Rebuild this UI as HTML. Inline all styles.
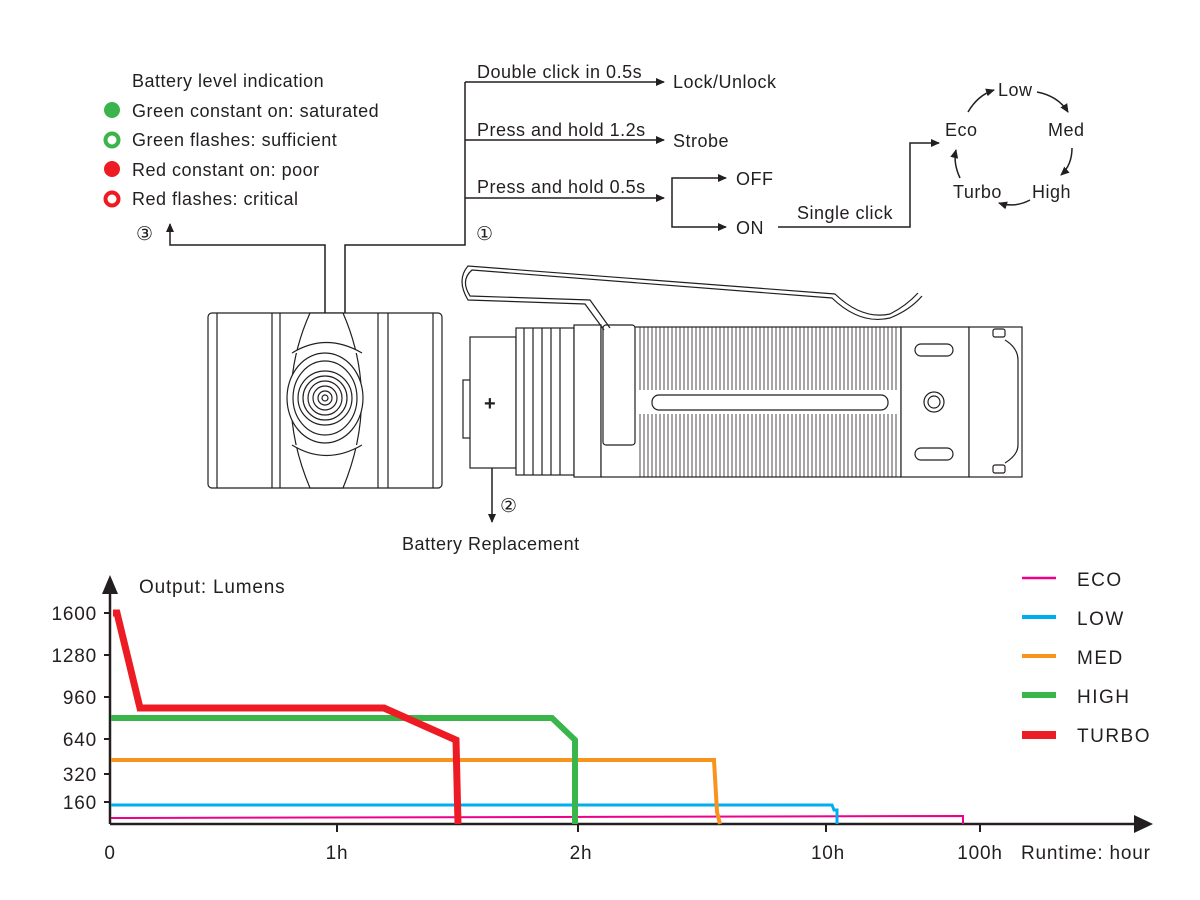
<!DOCTYPE html>
<html><head><meta charset="utf-8"><style>
html,body{margin:0;padding:0;background:#fff}
svg{display:block}
text{font-family:"Liberation Sans","DejaVu Sans",sans-serif;fill:#231f20}
.t{font-size:18px;letter-spacing:0.5px}
.c{font-size:19px;letter-spacing:0.8px}
</style></head><body>
<svg width="1200" height="900" viewBox="0 0 1200 900" xmlns="http://www.w3.org/2000/svg">
<defs>
<marker id="ar" markerWidth="9" markerHeight="9" refX="8" refY="4.5" orient="auto" markerUnits="userSpaceOnUse"><path d="M0,0.5 L9,4.5 L0,8.5z" fill="#231f20"/></marker>
</defs>

<!-- Battery indication -->
<text class="t" x="132" y="87">Battery level indication</text>
<circle cx="112" cy="110" r="8" fill="#3bb44a"/>
<text class="t" x="132" y="117">Green constant on: saturated</text>
<circle cx="112" cy="140" r="6.5" fill="none" stroke="#3bb44a" stroke-width="4"/>
<text class="t" x="132" y="146">Green flashes: sufficient</text>
<circle cx="112" cy="169" r="8" fill="#ed1c24"/>
<text class="t" x="132" y="176">Red constant on: poor</text>
<circle cx="112" cy="199" r="6.5" fill="none" stroke="#ed1c24" stroke-width="4"/>
<text class="t" x="132" y="205">Red flashes: critical</text>

<!-- connectors -->
<g stroke="#231f20" stroke-width="1.5" fill="none">
<path d="M325,398 V245 H170 V224" marker-end="url(#ar)"/>
<path d="M345,398 V245 H465 V82"/>
<path d="M465,82 H664" marker-end="url(#ar)"/>
<path d="M465,140 H664" marker-end="url(#ar)"/>
<path d="M465,198 H664" marker-end="url(#ar)"/>
<path d="M672,198 V178 H726" marker-end="url(#ar)"/>
<path d="M672,198 V227 H726" marker-end="url(#ar)"/>
<path d="M778,227 H910 V143 H939" marker-end="url(#ar)"/>
<path d="M492,452 V522" marker-end="url(#ar)"/>
</g>
<text x="136" y="240" font-size="19">③</text>
<text x="476" y="240" font-size="19">①</text>
<text x="500" y="512" font-size="19">②</text>
<text class="t" x="402" y="550">Battery Replacement</text>
<text class="t" x="477" y="78">Double click in 0.5s</text>
<text class="t" x="673" y="88">Lock/Unlock</text>
<text class="t" x="477" y="136">Press and hold 1.2s</text>
<text class="t" x="673" y="147">Strobe</text>
<text class="t" x="477" y="193">Press and hold 0.5s</text>
<text class="t" x="736" y="185">OFF</text>
<text class="t" x="736" y="234">ON</text>
<text class="t" x="797" y="219">Single click</text>

<!-- cycle -->
<text class="t" x="998" y="96">Low</text>
<text class="t" x="1048" y="136">Med</text>
<text class="t" x="1032" y="198">High</text>
<text class="t" x="953" y="198">Turbo</text>
<text class="t" x="945" y="136">Eco</text>
<g stroke="#231f20" stroke-width="1.5" fill="none">
<path d="M1037,92 Q1058,96 1068,112" marker-end="url(#ar)"/>
<path d="M1072,148 Q1072,165 1061,175" marker-end="url(#ar)"/>
<path d="M1030,200 Q1015,208 999,203" marker-end="url(#ar)"/>
<path d="M960,178 Q953,163 956,150" marker-end="url(#ar)"/>
<path d="M968,112 Q978,95 994,90" marker-end="url(#ar)"/>
</g>

<!-- flashlight head (front view) -->
<g stroke="#231f20" stroke-width="1.2" fill="#fff">
<rect x="208" y="313" width="234" height="175" rx="4"/>
<line x1="217" y1="313" x2="217" y2="488"/>
<line x1="272" y1="313" x2="272" y2="488"/>
<line x1="280" y1="313" x2="280" y2="488"/>
<line x1="378" y1="313" x2="378" y2="488"/>
<line x1="388" y1="313" x2="388" y2="488"/>
<line x1="433" y1="313" x2="433" y2="488"/>
<path d="M310,313 H343 Q380,398 343,488 H310 Q272,398 310,313z"/>
<path d="M292,353 Q326,332 362,353"/>
<path d="M292,445 Q326,466 362,445"/>
<ellipse cx="325" cy="398" rx="38" ry="45"/>
<ellipse cx="325" cy="398" rx="32" ry="37"/>
<circle cx="325" cy="398" r="27"/>
<circle cx="325" cy="398" r="22"/>
<circle cx="325" cy="398" r="17"/>
<circle cx="325" cy="398" r="12"/>
<circle cx="325" cy="398" r="7"/>
<circle cx="325" cy="398" r="3"/>
</g>

<!-- flashlight body -->
<g stroke="#231f20" stroke-width="1.2" fill="#fff">
<rect x="463" y="380" width="8" height="58"/>
<rect x="470" y="337" width="46" height="131"/>
<rect x="516" y="328" width="58" height="147"/>
<line x1="524" y1="328" x2="524" y2="475"/><line x1="533" y1="328" x2="533" y2="475"/><line x1="542" y1="328" x2="542" y2="475"/><line x1="551" y1="328" x2="551" y2="475"/><line x1="560" y1="328" x2="560" y2="475"/>
<rect x="574" y="325" width="27" height="152"/>
<rect x="601" y="327" width="300" height="150"/>
<rect x="603" y="325" width="32" height="120" rx="3"/>
<rect x="901" y="327" width="68" height="150"/>
<rect x="969" y="327" width="53" height="150"/>
<path d="M1005,340 Q1018,348 1018,360 V445 Q1018,455 1005,463"/>
<rect x="993" y="329" width="12" height="8" rx="2"/>
<rect x="993" y="465" width="12" height="8" rx="2"/>
<rect x="915" y="344" width="38" height="12" rx="6"/>
<rect x="915" y="448" width="38" height="12" rx="6"/>
<ellipse cx="934" cy="402" rx="10" ry="10"/>
<ellipse cx="934" cy="402" rx="6" ry="6"/>
</g>
<g stroke="#231f20" stroke-width="0.8">
<path d="M640,327 V390 M644,327 V390 M648,327 V390 M652,327 V390 M656,327 V390 M660,327 V390 M664,327 V390 M668,327 V390 M672,327 V390 M676,327 V390 M680,327 V390 M684,327 V390 M688,327 V390 M692,327 V390 M696,327 V390 M700,327 V390 M704,327 V390 M708,327 V390 M712,327 V390 M716,327 V390 M720,327 V390 M724,327 V390 M728,327 V390 M732,327 V390 M736,327 V390 M740,327 V390 M744,327 V390 M748,327 V390 M752,327 V390 M756,327 V390 M760,327 V390 M764,327 V390 M768,327 V390 M772,327 V390 M776,327 V390 M780,327 V390 M784,327 V390 M788,327 V390 M792,327 V390 M796,327 V390 M800,327 V390 M804,327 V390 M808,327 V390 M812,327 V390 M816,327 V390 M820,327 V390 M824,327 V390 M828,327 V390 M832,327 V390 M836,327 V390 M840,327 V390 M844,327 V390 M848,327 V390 M852,327 V390 M856,327 V390 M860,327 V390 M864,327 V390 M868,327 V390 M872,327 V390 M876,327 V390 M880,327 V390 M884,327 V390 M888,327 V390 M892,327 V390 M896,327 V390"/>
<path d="M640,414 V477 M644,414 V477 M648,414 V477 M652,414 V477 M656,414 V477 M660,414 V477 M664,414 V477 M668,414 V477 M672,414 V477 M676,414 V477 M680,414 V477 M684,414 V477 M688,414 V477 M692,414 V477 M696,414 V477 M700,414 V477 M704,414 V477 M708,414 V477 M712,414 V477 M716,414 V477 M720,414 V477 M724,414 V477 M728,414 V477 M732,414 V477 M736,414 V477 M740,414 V477 M744,414 V477 M748,414 V477 M752,414 V477 M756,414 V477 M760,414 V477 M764,414 V477 M768,414 V477 M772,414 V477 M776,414 V477 M780,414 V477 M784,414 V477 M788,414 V477 M792,414 V477 M796,414 V477 M800,414 V477 M804,414 V477 M808,414 V477 M812,414 V477 M816,414 V477 M820,414 V477 M824,414 V477 M828,414 V477 M832,414 V477 M836,414 V477 M840,414 V477 M844,414 V477 M848,414 V477 M852,414 V477 M856,414 V477 M860,414 V477 M864,414 V477 M868,414 V477 M872,414 V477 M876,414 V477 M880,414 V477 M884,414 V477 M888,414 V477 M892,414 V477 M896,414 V477"/>
</g>
<rect x="652" y="395" width="236" height="15" rx="7" fill="#fff" stroke="#231f20" stroke-width="1.2"/>
<text x="484" y="410" font-size="20" font-weight="bold">+</text>
<!-- clip -->
<g stroke="#231f20" stroke-width="1.2" fill="none">
<path d="M610,328 L590,300 L470,296 Q460,280 472,270 L832,298 Q860,325 890,318 Q910,310 922,296"/>
<path d="M604,330 L585,304 L468,300 Q456,280 468,266 L835,294 Q862,320 890,314 Q906,306 918,293"/>
</g>

<!-- chart -->
<g stroke="#231f20" stroke-width="2.5" fill="none">
<path d="M110,824 V592"/>
<path d="M110,824 H1135"/>
</g>
<path d="M110,575 L102,594 L118,594z" fill="#231f20"/>
<path d="M1153,824 L1134,815 L1134,833z" fill="#231f20"/>
<g stroke="#231f20" stroke-width="2">
<path d="M337,824 V832 M578,824 V832 M826,824 V832 M980,824 V832"/>
<path d="M104,613 H110 M104,655 H110 M104,697 H110 M104,739 H110 M104,774 H110 M104,802 H110"/>
</g>
<g class="c" text-anchor="end">
<text x="97" y="620">1600</text><text x="97" y="662">1280</text><text x="97" y="704">960</text>
<text x="97" y="746">640</text><text x="97" y="781">320</text><text x="97" y="809">160</text>
</g>
<g class="c" text-anchor="middle">
<text x="110" y="859">0</text><text x="337" y="859">1h</text><text x="581" y="859">2h</text>
<text x="828" y="859">10h</text><text x="980" y="859">100h</text>
</g>
<text class="c" x="1021" y="859">Runtime: hour</text>
<text class="c" x="139" y="593">Output: Lumens</text>

<g fill="none" stroke-linejoin="miter">
<path d="M111,818 L963,816 V824" stroke="#ec008c" stroke-width="2"/>
<path d="M111,805 H832 L834,810 H837 V824" stroke="#00aeef" stroke-width="3"/>
<path d="M111,760 H714 L717,812 L720,824" stroke="#f7941d" stroke-width="4"/>
<path d="M111,718 H552 L575,740 V824" stroke="#39b54a" stroke-width="6"/>
<path d="M113,613 H117 L140,708 H384 L456,740 L458,824" stroke="#ed1c24" stroke-width="7"/>
</g>
<g stroke-width="4">
<line x1="1022" y1="578" x2="1056" y2="578" stroke="#ec008c" stroke-width="2.5"/>
<line x1="1022" y1="617" x2="1056" y2="617" stroke="#00aeef"/>
<line x1="1022" y1="656" x2="1056" y2="656" stroke="#f7941d"/>
<line x1="1022" y1="695" x2="1056" y2="695" stroke="#39b54a" stroke-width="6"/>
<line x1="1022" y1="735" x2="1056" y2="735" stroke="#ed1c24" stroke-width="8"/>
</g>
<g font-size="19" letter-spacing="1.5">
<text x="1077" y="586">ECO</text><text x="1077" y="625">LOW</text><text x="1077" y="664">MED</text>
<text x="1077" y="703">HIGH</text><text x="1077" y="742">TURBO</text>
</g>
</svg>
</body></html>
